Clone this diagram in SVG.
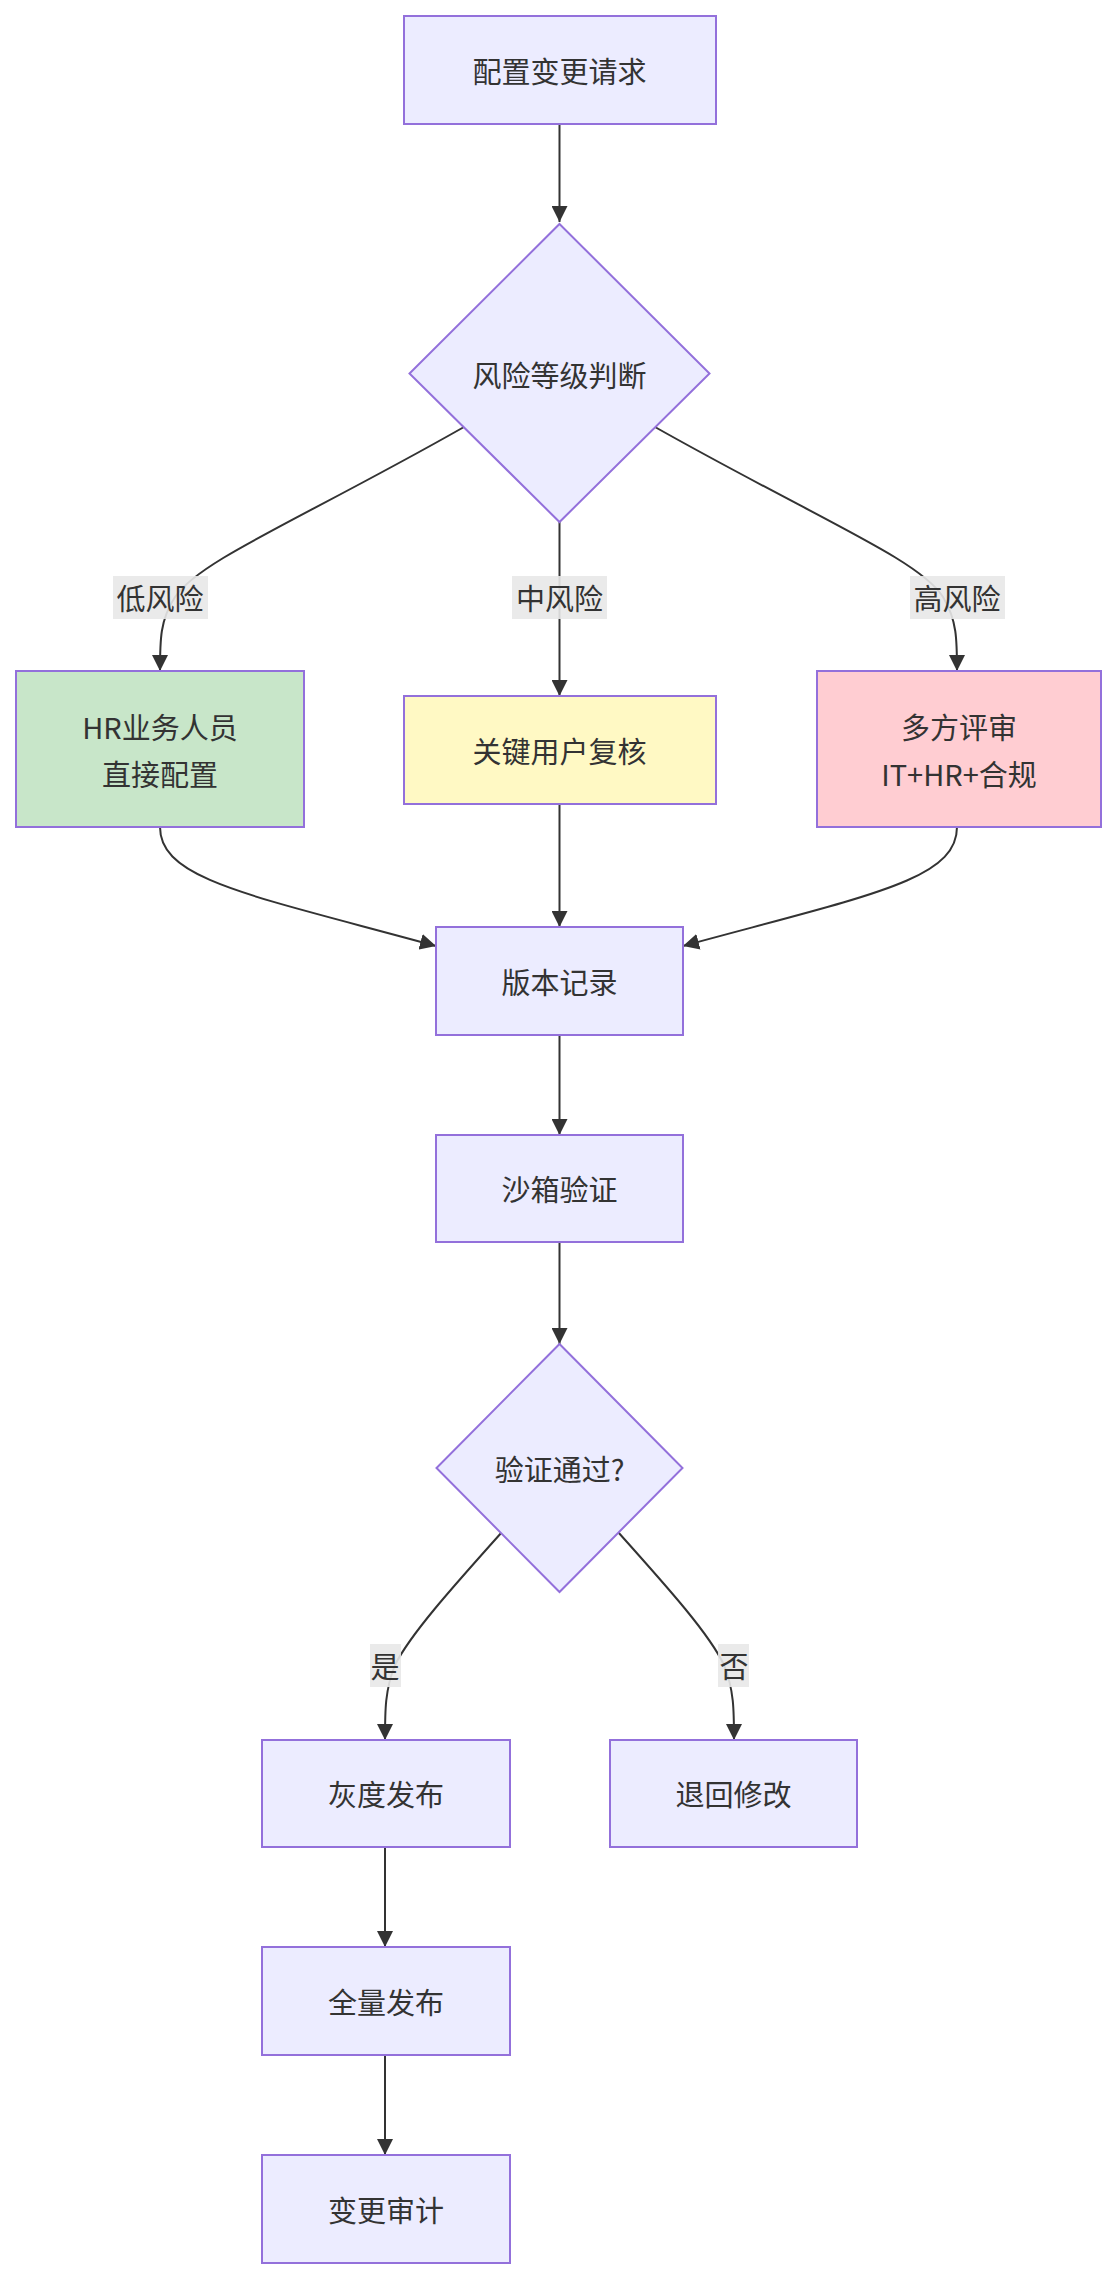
<svg xmlns="http://www.w3.org/2000/svg" width="1116" height="2279" viewBox="0 0 1116 2279">
<style>
.n{fill:#ECECFF;stroke:#9370DB;stroke-width:2}
.g{fill:#C8E6C9}.y{fill:#FFF9C4}.p{fill:#FFCDD2}
text{font-family:"Noto Sans CJK SC","Liberation Sans",sans-serif;font-size:29px;fill:#333;text-anchor:middle;dominant-baseline:central}
.e{fill:none;stroke:#333;stroke-width:2;marker-end:url(#a)}
.lb{fill:#E8E8E8;opacity:0.9}
</style>
<defs><marker id="a" viewBox="0 0 10 10" refX="10" refY="5" markerWidth="9" markerHeight="9" markerUnits="userSpaceOnUse" orient="auto"><path d="M0,0L10,5L0,10z" fill="#333"/></marker>
<marker id="b" viewBox="0 0 10 10" refX="10" refY="5" markerWidth="16" markerHeight="16" markerUnits="userSpaceOnUse" orient="auto"><path d="M0,0L10,5L0,10z" fill="#333"/></marker></defs>
<style>.e{marker-end:url(#b)}</style>
<g id="edges">
<path class="e" d="M559.5,124V222"/>
<path class="e" d="M464,427C300,520 200,560 175,597C160,620 160,640 160,671"/>
<path class="e" d="M559.5,522V696"/>
<path class="e" d="M655,427C820,520 920,560 943,597C957,620 957,640 957,671"/>
<path class="e" d="M160,827C160,880 250,895 436,946"/>
<path class="e" d="M559.5,804V927"/>
<path class="e" d="M957,827C957,880 870,895 683,946"/>
<path class="e" d="M559.5,1035V1135"/>
<path class="e" d="M559.5,1242V1344"/>
<path class="e" d="M502,1532C450,1590 410,1635 395,1665C385,1690 385,1710 385,1740"/>
<path class="e" d="M618,1532C670,1590 710,1635 724,1665C734,1690 734,1710 734,1740"/>
<path class="e" d="M385,1847V1947"/>
<path class="e" d="M385,2055V2155"/>
<rect class="lb" x="113" y="576" width="95" height="43"/><text x="160" y="597">低风险</text>
<rect class="lb" x="512" y="576" width="95" height="43"/><text x="559.5" y="597">中风险</text>
<rect class="lb" x="910" y="576" width="95" height="43"/><text x="957" y="597">高风险</text>
<rect class="lb" x="370" y="1644" width="31" height="43"/><text x="385" y="1665">是</text>
<rect class="lb" x="718" y="1644" width="31" height="43"/><text x="734" y="1665">否</text>
</g>
<g id="start"><rect class="n" x="404" y="16" width="312" height="108"/><text x="559.5" y="70">配置变更请求</text></g>
<g id="risk"><path class="n" d="M559.5,224L709.5,373.5L559.5,522L409.5,373.5Z"/><text x="559.5" y="373.5">风险等级判断</text></g>
<g id="low"><rect class="n g" x="16" y="671" width="288" height="156"/><text x="160" y="726">HR业务人员</text><text x="160" y="773">直接配置</text></g>
<g id="mid"><rect class="n y" x="404" y="696" width="312" height="108"/><text x="559.5" y="750">关键用户复核</text></g>
<g id="high"><rect class="n p" x="817" y="671" width="284" height="156"/><text x="959" y="726">多方评审</text><text x="959" y="773">IT+HR+合规</text></g>
<g id="ver"><rect class="n" x="436" y="927" width="247" height="108"/><text x="559.5" y="981">版本记录</text></g>
<g id="sand"><rect class="n" x="436" y="1135" width="247" height="107"/><text x="559.5" y="1188">沙箱验证</text></g>
<g id="pass"><path class="n" d="M559.5,1344L682.5,1468L559.5,1592L436.5,1468Z"/><text x="559.5" y="1468">验证通过?</text></g>
<g id="gray"><rect class="n" x="262" y="1740" width="248" height="107"/><text x="386" y="1793">灰度发布</text></g>
<g id="back"><rect class="n" x="610" y="1740" width="247" height="107"/><text x="733.5" y="1793">退回修改</text></g>
<g id="full"><rect class="n" x="262" y="1947" width="248" height="108"/><text x="386" y="2001">全量发布</text></g>
<g id="audit"><rect class="n" x="262" y="2155" width="248" height="108"/><text x="386" y="2209">变更审计</text></g>
</svg>
